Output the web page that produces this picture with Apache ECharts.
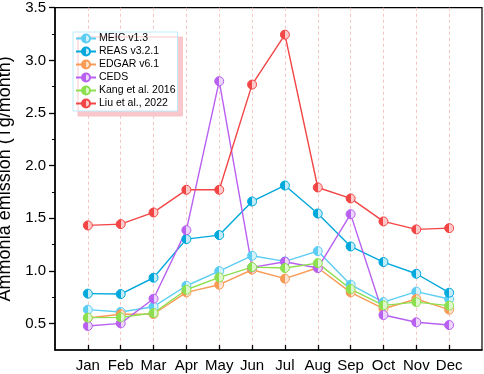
<!DOCTYPE html>
<html><head><meta charset="utf-8">
<script src="https://cdn.jsdelivr.net/npm/echarts@6/dist/echarts.min.js"></script>
<style>html,body{margin:0;padding:0;background:#fff}#c{width:484px;height:374px}</style>
</head><body><div id="c"></div>
<script>
const months = ['Jan','Feb','Mar','Apr','May','Jun','Jul','Aug','Sep','Oct','Nov','Dec'];
const meic  = [0.633,0.611,0.661,0.860,0.999,1.145,1.091,1.189,0.870,0.705,0.804,0.734];
const reas  = [0.785,0.781,0.936,1.303,1.341,1.660,1.812,1.546,1.233,1.085,0.974,0.794];
const edgar = [0.554,0.589,0.592,0.797,0.870,1.012,0.927,1.031,0.797,0.642,0.734,0.633];
const ceds  = [0.478,0.503,0.737,1.388,2.802,1.034,1.088,1.028,1.540,0.582,0.513,0.487];
const kang  = [0.557,0.560,0.601,0.822,0.939,1.037,1.028,1.075,0.829,0.674,0.705,0.671];
const liu   = [1.433,1.445,1.556,1.771,1.771,2.770,3.244,1.793,1.689,1.471,1.395,1.407];
const yTicks = ['0.5','1.0','1.5','2.0','2.5','3.0','3.5'];

const seriesDefs = [
  {name:'MEIC v1.3', data:meic, color:'#5ccdf2', light:'#d4f2fc'},
  {name:'REAS v3.2.1', data:reas, color:'#00a8dc', light:'#c4ecf8'},
  {name:'EDGAR v6.1', data:edgar, color:'#f99a55', light:'#fde3cf'},
  {name:'CEDS', data:ceds, color:'#b860f0', light:'#ecd6fb'},
  {name:'Kang et al. 2016', data:kang, color:'#8ce050', light:'#def6cc'},
  {name:'Liu et al., 2022', data:liu, color:'#f24545', light:'#fccaca'}
];
function half(c, l){
  return {type:'linear', x:0, y:0, x2:1, y2:0, colorStops:[
    {offset:0,color:c},{offset:0.5,color:c},{offset:0.5,color:l},{offset:1,color:l}]};
}
const series = seriesDefs.map(s => ({
  name:s.name, type:'line',
  data:s.data.map((v,i)=>[i+1, v]),
  symbol:'circle', symbolSize:9,
  lineStyle:{color:s.color, width:1.4},
  itemStyle:{color:half(s.color, s.light), borderColor:s.color, borderWidth:1},
  emphasis:{disabled:true}
}));

const chart = echarts.init(document.getElementById('c'), null, {renderer:'canvas'});
chart.setOption({
  animation:false,
  backgroundColor:'#fff',
  textStyle:{fontFamily:'Liberation Sans, Arial, sans-serif'},
  grid:{left:55, right:2, top:7.7, bottom:24, containLabel:false, outerBoundsMode:'none',
    show:true, borderColor:'#000', borderWidth:1.2},
  legend:{
    orient:'vertical', left:73, top:32, itemGap:2, itemWidth:20, itemHeight:10,
    padding:[1,2,2,2],
    backgroundColor:'#fff', borderColor:'#bfeaf9', borderWidth:1,
    shadowColor:'rgba(248,190,195,0.85)', shadowBlur:0, shadowOffsetX:5, shadowOffsetY:5,
    textStyle:{fontSize:10.5, color:'#000', fontFamily:'Liberation Sans, Arial, sans-serif', padding:[0,0,0,-2]},
    data:seriesDefs.map(s=>s.name)
  },
  xAxis:{
    type:'value', min:0, max:13, interval:1,
    axisLine:{show:true, lineStyle:{color:'#000', width:1.5}},
    axisTick:{inside:true, length:5, lineStyle:{color:'#000', width:1.3},
      customValues:[1,2,3,4,5,6,7,8,9,10,11,12]},
    axisLabel:{fontSize:15, color:'#000', margin:8,
      customValues:[1,2,3,4,5,6,7,8,9,10,11,12],
      formatter:v=>months[v-1] || ''},
    splitLine:{show:true, lineStyle:{color:'#f6c4c4', type:[3,3], width:1}},
  },
  yAxis:{
    type:'value', min:0.25, max:3.5,
    name:'Ammonia emission (Tg/month)', nameLocation:'middle', nameGap:34,
    nameTextStyle:{fontSize:18, color:'#000'},
    axisLine:{show:true, lineStyle:{color:'#000', width:1.5}},
    axisTick:{show:true, length:6, lineStyle:{color:'#000', width:1.3},
      customValues:[0.5,1,1.5,2,2.5,3,3.5]},
    minorTick:{show:true, splitNumber:2, length:3, lineStyle:{color:'#000', width:1}},
    axisLabel:{fontSize:15, color:'#000', margin:9,
      customValues:[0.5,1,1.5,2,2.5,3,3.5],
      formatter:v=>{const i=Math.round((v-0.5)/0.5); return yTicks[i]||'';}},
    splitLine:{show:false}
  },
  series:series
});
</script></body></html>
